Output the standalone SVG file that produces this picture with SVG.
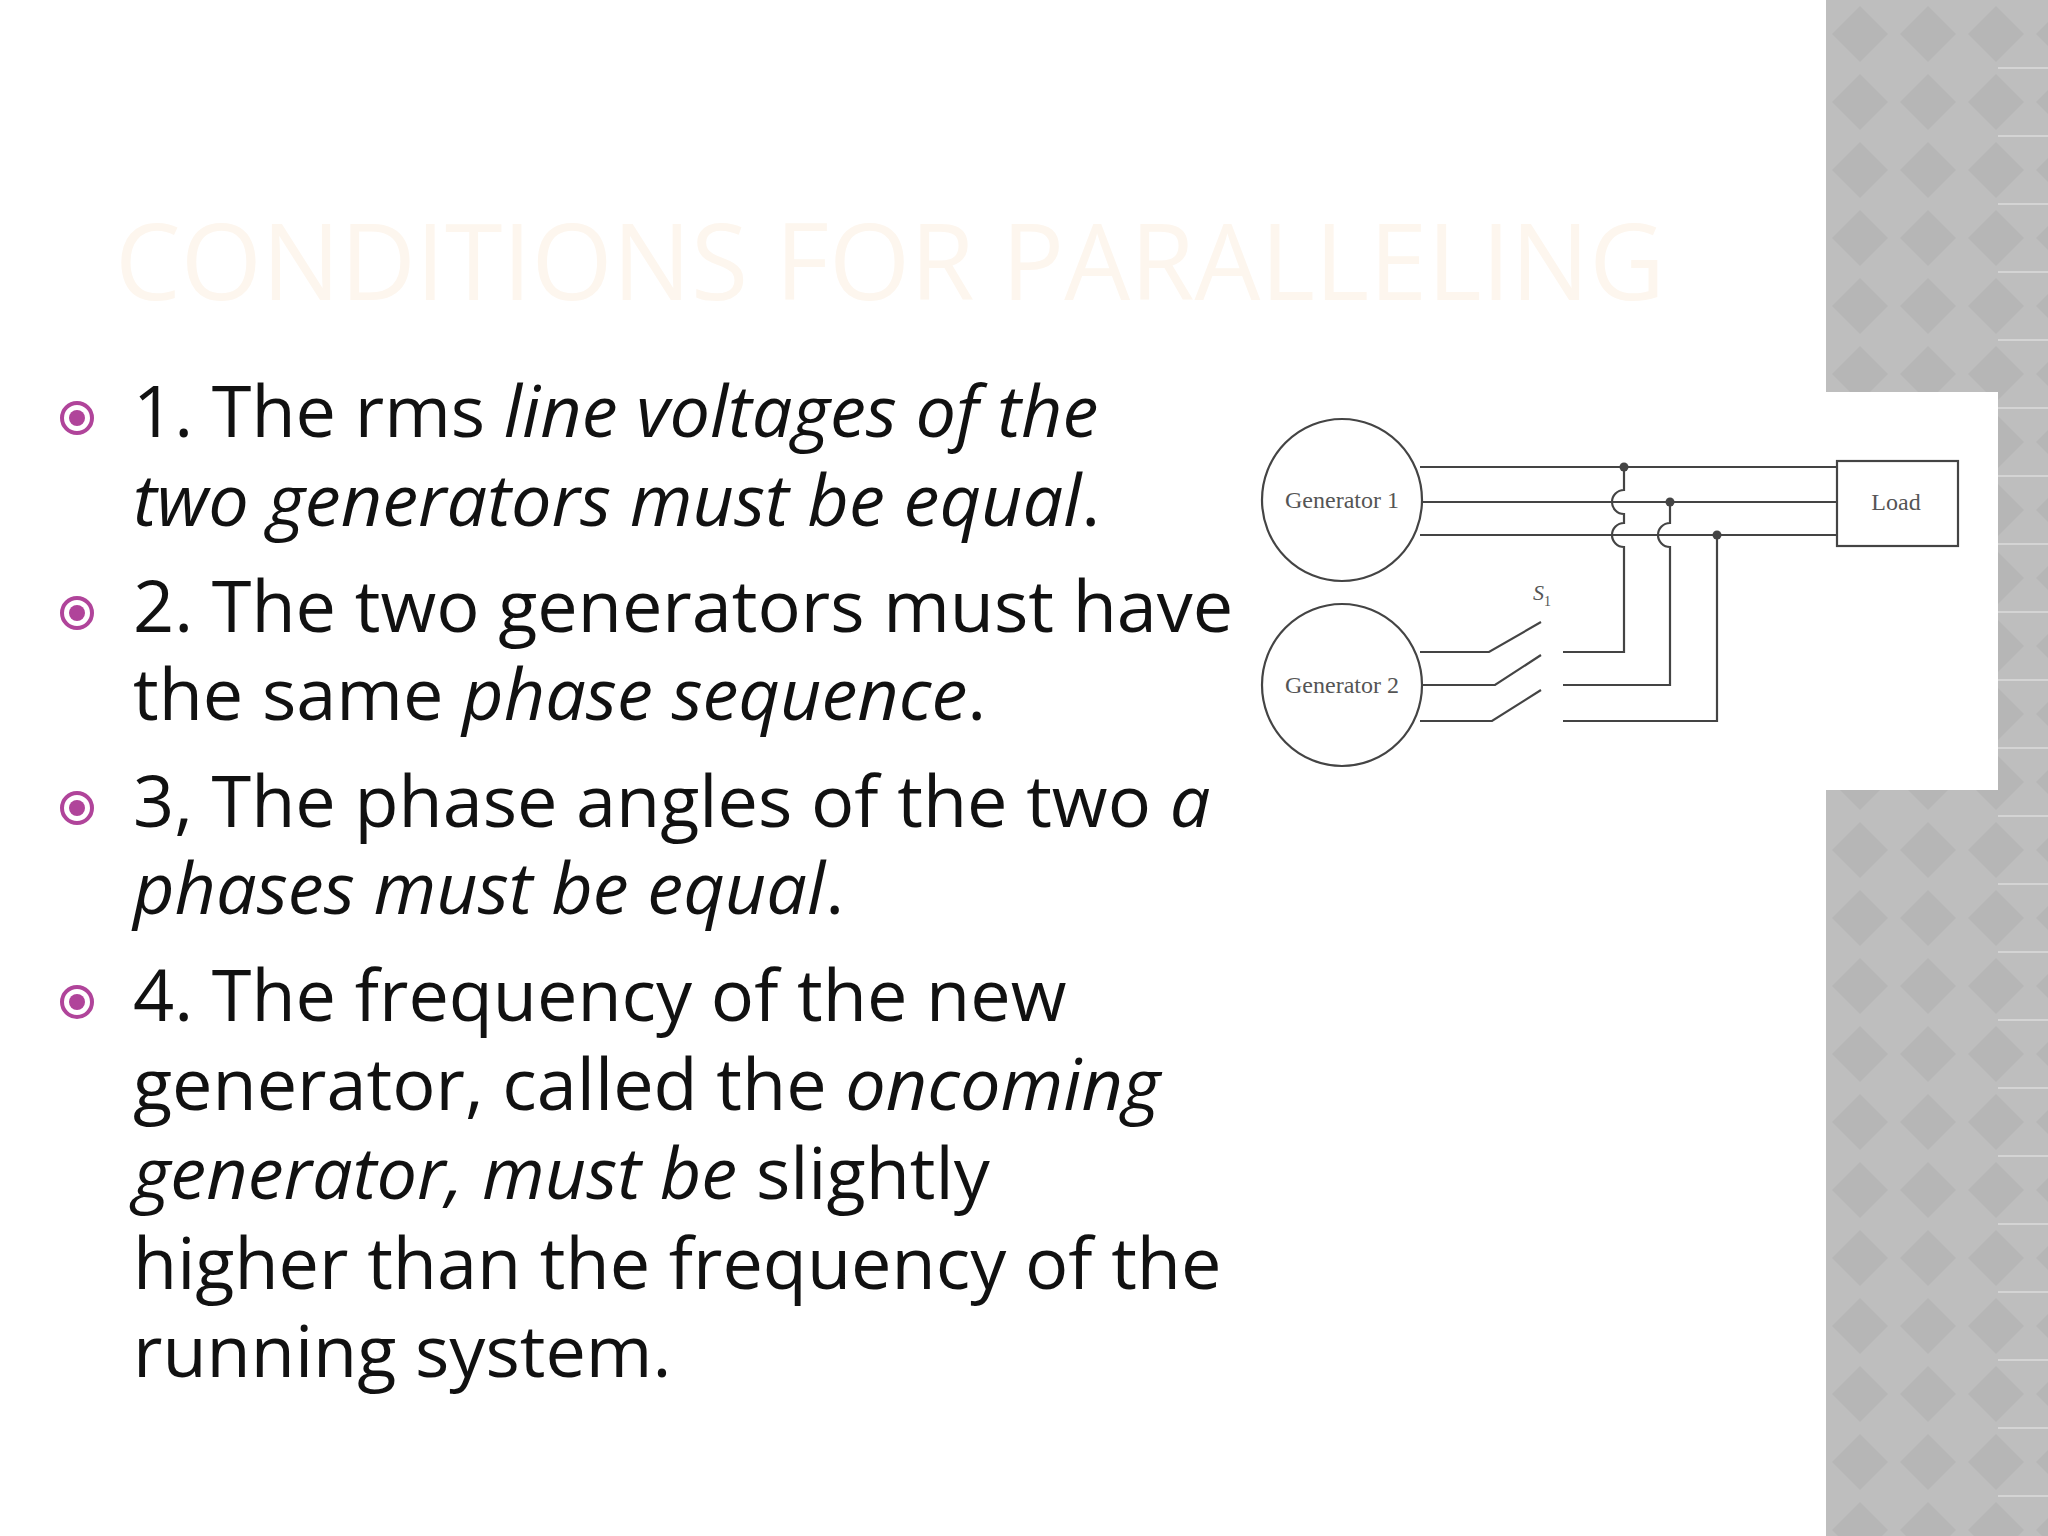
<svg xmlns="http://www.w3.org/2000/svg" width="2048" height="1536" viewBox="0 0 2048 1536">
<style>
.body{font-family:"Open Sans","Noto Sans","Liberation Sans",sans-serif;font-size:72px;fill:#111}
.it{font-style:italic}
.w{fill:none;stroke:#444;stroke-width:2.2}
.lbl{font-family:"Liberation Serif",serif;font-size:24px;fill:#555;text-anchor:middle}
.bul{fill:none;stroke:#b0449a;stroke-width:4}
</style>
<defs>
<pattern id="dia" x="1826" y="0" width="68" height="68" patternUnits="userSpaceOnUse">
<rect width="68" height="68" fill="#bebebe"/>
<polygon points="34,6 62,34 34,62 6,34" fill="#b6b6b6"/>
</pattern>
</defs>
<rect width="2048" height="1536" fill="#fff"/>
<g id="sidebar">
<rect x="1826" y="0" width="222" height="1536" fill="url(#dia)"/>
<g stroke="#d4d4d4" stroke-width="2">
<path d="M1998 68H2048M1998 136H2048M1998 204H2048M1998 272H2048M1998 340H2048M1998 408H2048M1998 476H2048M1998 544H2048M1998 612H2048M1998 680H2048M1998 748H2048M1998 816H2048M1998 884H2048M1998 952H2048M1998 1020H2048M1998 1088H2048M1998 1156H2048M1998 1224H2048M1998 1292H2048M1998 1360H2048M1998 1428H2048M1998 1496H2048"/>
</g>
</g>
<text x="115" y="300" font-family="'Open Sans','Noto Sans',sans-serif" font-size="106" fill="#fdf6ee" textLength="1550" lengthAdjust="spacingAndGlyphs">CONDITIONS FOR PARALLELING</text>
<g id="bullets">
<circle class="bul" cx="77" cy="418" r="15"/><circle cx="77" cy="418" r="8" fill="#b0449a"/>
<circle class="bul" cx="77" cy="613" r="15"/><circle cx="77" cy="613" r="8" fill="#b0449a"/>
<circle class="bul" cx="77" cy="808" r="15"/><circle cx="77" cy="808" r="8" fill="#b0449a"/>
<circle class="bul" cx="77" cy="1002" r="15"/><circle cx="77" cy="1002" r="8" fill="#b0449a"/>
</g>
<g id="text" class="body">
<text x="133" y="437">1. The rms <tspan class="it">line voltages of the</tspan></text>
<text x="133" y="526"><tspan class="it">two generators must be equal</tspan>.</text>
<text x="133" y="632">2. The two generators must have</text>
<text x="133" y="720">the same <tspan class="it">phase sequence</tspan>.</text>
<text x="133" y="827">3, The phase angles of the two <tspan class="it">a</tspan></text>
<text x="133" y="914"><tspan class="it">phases must be equal</tspan>.</text>
<text x="133" y="1021">4. The frequency of the new</text>
<text x="133" y="1110">generator, called the <tspan class="it">oncoming</tspan></text>
<text x="133" y="1199"><tspan class="it">generator, must be</tspan> slightly</text>
<text x="133" y="1289">higher than the frequency of the</text>
<text x="133" y="1377">running system.</text>
</g>
<rect x="1826" y="392" width="172" height="398" fill="#fff"/>
<g id="gen1"><ellipse class="w" cx="1342" cy="500" rx="80" ry="81"/><text class="lbl" x="1342" y="508">Generator 1</text></g>
<g id="gen2"><ellipse class="w" cx="1342" cy="685" rx="80" ry="81"/><text class="lbl" x="1342" y="693">Generator 2</text></g>
<g id="load"><rect class="w" x="1837" y="461" width="121" height="85"/><text class="lbl" x="1896" y="510">Load</text></g>
<text x="1533" y="600" font-family="'Liberation Serif',serif" font-style="italic" font-size="22" fill="#555">S<tspan font-size="14" dy="6" font-style="normal">1</tspan></text>
<g id="connectors" class="w">
<path d="M1420 467H1837M1422 502H1837M1420 535H1837"/>
<path d="M1624 467V490A12 12 0 0 0 1624 514V523A12 12 0 0 0 1624 547V652H1563"/>
<path d="M1670 502V523A12 12 0 0 0 1670 547V685H1563"/>
<path d="M1717 535V721H1563"/>
<path d="M1420 652H1489L1541 622M1422 685H1495L1541 655M1420 721H1492L1541 690"/>
</g>
<g fill="#444"><circle cx="1624" cy="467" r="4.5"/><circle cx="1670" cy="502" r="4.5"/><circle cx="1717" cy="535" r="4.5"/></g>
</svg>
